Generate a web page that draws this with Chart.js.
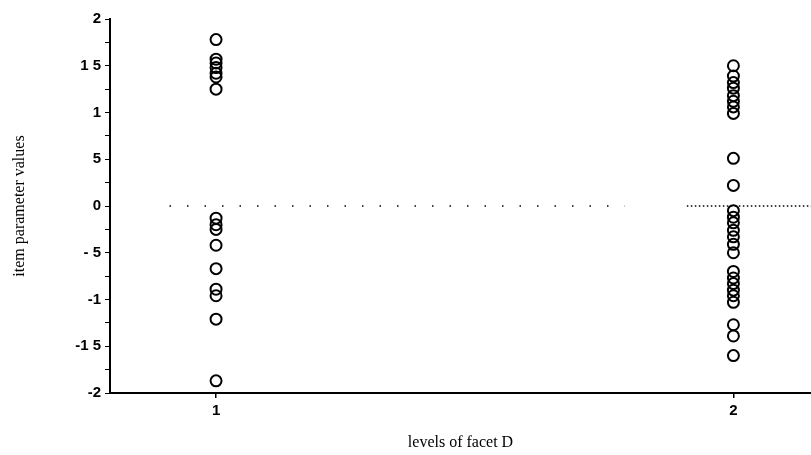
<!DOCTYPE html>
<html>
<head>
<meta charset="utf-8">
<script src="https://cdn.jsdelivr.net/npm/chart.js@4/dist/chart.umd.min.js"></script>
<style>
  html, body { margin: 0; padding: 0; background: #fff; }
  #wrap { width: 811px; height: 455px; }
</style>
</head>
<body>
<div id="wrap"><canvas id="c" width="811" height="455"></canvas></div>
<script>
// Data
const levels = [1, 2];
const level1Values = [1.78, 1.57, 1.53, 1.48, 1.42, 1.38, 1.25,
                      -0.13, -0.20, -0.25, -0.42, -0.67, -0.89, -0.96, -1.21, -1.87];
const level2Values = [1.50, 1.39, 1.32, 1.26, 1.18, 1.12, 1.06, 0.99, 0.51, 0.22,
                      -0.05, -0.12, -0.18, -0.26, -0.33, -0.41, -0.50,
                      -0.70, -0.77, -0.83, -0.90, -0.96, -1.03, -1.27, -1.39, -1.60];
// zero reference line (dotted), sparse part and dense part
const zeroSparseX = [0.91, 1.79];
const zeroDenseX = [1.91, 2.15];
const zeroY = 0;
const yTickLabels = {"2": "2", "1.5": "1 5", "1": "1", "0.5": "5", "0": "0",
                     "-0.5": "- 5", "-1": "-1", "-1.5": "-1 5", "-2": "-2"};
const xTickLabels = ["1", "2"];

const pts = (x, arr) => arr.map(v => ({x: x, y: v}));
const lineOf = (xs) => xs.map(x => ({x: x, y: zeroY}));

const circleStyle = {
  type: 'scatter', showLine: false, pointStyle: 'circle', pointRadius: 5.5,
  pointBorderWidth: 2, pointBorderColor: '#000', pointBackgroundColor: 'rgba(0,0,0,0)',
  pointHoverRadius: 5.5
};

new Chart(document.getElementById('c'), {
  type: 'scatter',
  data: {
    datasets: [
      Object.assign({label: 'level 1', data: pts(levels[0], level1Values)}, circleStyle),
      Object.assign({label: 'level 2', data: pts(levels[1], level2Values)}, circleStyle),
      {type: 'line', label: 'zero a', data: lineOf(zeroSparseX), borderColor: '#000',
       borderWidth: 1.5, borderDash: [1.5, 16], pointRadius: 0, fill: false},
      {type: 'line', label: 'zero b', data: lineOf(zeroDenseX), borderColor: '#000',
       borderWidth: 1.5, borderDash: [1.5, 2.5], pointRadius: 0, fill: false}
    ]
  },
  options: {
    responsive: false,
    animation: false,
    layout: { autoPadding: false, padding: { top: 19, right: 0, left: 0, bottom: 0 } },
    plugins: { legend: { display: false }, tooltip: { enabled: false } },
    scales: {
      x: {
        type: 'linear', min: 0.795, max: 2.15,
        afterBuildTicks: s => { s.ticks = levels.map(v => ({value: v})); },
        afterFit: s => { s.height = 62; },
        grid: { display: true, drawOnChartArea: false, drawTicks: true, tickLength: 5, color: '#000', lineWidth: 1.5 },
        border: { display: true, color: '#000', width: 2 },
        ticks: {
          color: '#000', padding: 4, maxRotation: 0,
          font: { family: 'Liberation Sans, Arial, sans-serif', size: 15, weight: 'bold' },
          callback: (v) => xTickLabels[levels.indexOf(v)] ?? ''
        },
        title: {
          display: true, text: 'levels of facet D', color: '#000',
          font: { family: 'Liberation Serif, Times New Roman, serif', size: 16 },
          padding: { top: 0, bottom: 3 }
        }
      },
      y: {
        type: 'linear', min: -2, max: 2,
        ticks: {
          stepSize: 0.25, autoSkip: false, color: '#000', padding: 4,
          font: { family: 'Liberation Sans, Arial, sans-serif', size: 15, weight: 'bold' },
          callback: (v) => { const k = String(Math.round(v * 100) / 100); return yTickLabels[k] ?? ''; }
        },
        afterFit: s => { s.width = 110; },
        grid: { display: true, drawOnChartArea: false, drawTicks: true, tickLength: 5, color: '#000', lineWidth: 1 },
        border: { display: true, color: '#000', width: 2 },
        title: {
          display: true, text: 'item parameter values', color: '#000',
          font: { family: 'Liberation Serif, Times New Roman, serif', size: 16 },
          padding: { top: 10, bottom: 0 }
        }
      }
    }
  }
});
</script>
</body>
</html>
